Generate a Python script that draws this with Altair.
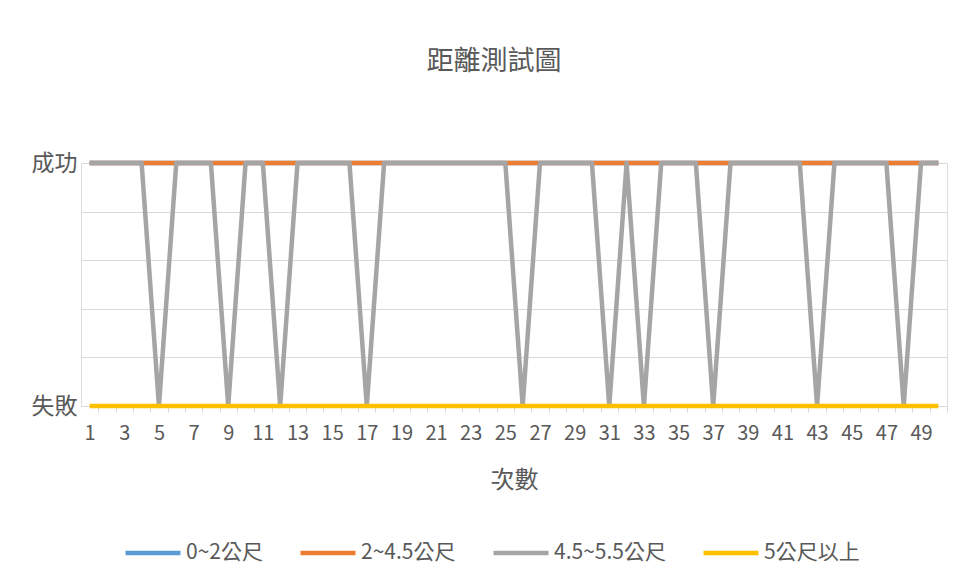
import altair as alt
import pandas as pd

# ---- data ----
trials = list(range(1, 51))
series_names = ["0~2公尺", "2~4.5公尺", "4.5~5.5公尺", "5公尺以上"]
series_colors = ["#5B9BD5", "#ED7D31", "#A5A5A5", "#FFC000"]

s_0_2 = [1, 1, 1, 1, 1, 1, 1, 1, 1, 1,
         1, 1, 1, 1, 1, 1, 1, 1, 1, 1,
         1, 1, 1, 1, 1, 1, 1, 1, 1, 1,
         1, 1, 1, 1, 1, 1, 1, 1, 1, 1,
         1, 1, 1, 1, 1, 1, 1, 1, 1, 1]
s_2_45 = [1, 1, 1, 1, 1, 1, 1, 1, 1, 1,
          1, 1, 1, 1, 1, 1, 1, 1, 1, 1,
          1, 1, 1, 1, 1, 1, 1, 1, 1, 1,
          1, 1, 1, 1, 1, 1, 1, 1, 1, 1,
          1, 1, 1, 1, 1, 1, 1, 1, 1, 1]
s_45_55 = [1, 1, 1, 1, 0, 1, 1, 1, 0, 1,
           1, 0, 1, 1, 1, 1, 0, 1, 1, 1,
           1, 1, 1, 1, 1, 0, 1, 1, 1, 1,
           0, 1, 0, 1, 1, 1, 0, 1, 1, 1,
           1, 1, 0, 1, 1, 1, 1, 0, 1, 1]
s_5_up = [0, 0, 0, 0, 0, 0, 0, 0, 0, 0,
          0, 0, 0, 0, 0, 0, 0, 0, 0, 0,
          0, 0, 0, 0, 0, 0, 0, 0, 0, 0,
          0, 0, 0, 0, 0, 0, 0, 0, 0, 0,
          0, 0, 0, 0, 0, 0, 0, 0, 0, 0]

x_tick_values = [v / 2 for v in range(2, 102)]  # 1, 1.5, ..., 50.5
y_grid_values = [0, 0.2, 0.4, 0.6, 0.8, 1]

all_series = [s_0_2, s_2_45, s_45_55, s_5_up]
rows = []
for name, vals in zip(series_names, all_series):
    for t, v in zip(trials, vals):
        rows.append({"次數": t, "結果": v, "系列": name})
df = pd.DataFrame(rows)

FONT = "Noto Sans CJK TC"
TEXT = "#595959"
GRID = "#D9D9D9"

x_axis = alt.Axis(
    values=x_tick_values,
    labelExpr="datum.value % 2 == 1 ? format(datum.value, 'd') : ''",
    labelOverlap=False,
    labelFont=FONT, labelFontSize=20, labelColor=TEXT, labelPadding=11,
    tickSize=6, tickColor=GRID,
    tickOpacity={"condition": {"test": "datum.value % 1 == 0", "value": 0}, "value": 1},
    domainColor=GRID, domainWidth=1, grid=False,
    title="次數", titleFont=FONT, titleFontSize=24, titleFontWeight="normal",
    titleColor=TEXT, titleY=74, titleBaseline="middle",
)
y_axis = alt.Axis(
    values=y_grid_values,
    labelExpr="datum.value == 1 ? '成功' : (datum.value == 0 ? '失敗' : '')",
    labelFont=FONT, labelFontSize=23, labelColor=TEXT, labelPadding=4,
    ticks=False, domain=False, grid=True, gridColor=GRID, gridWidth=1,
    title=None,
)
color_enc = alt.Color(
    "系列:N",
    scale=alt.Scale(domain=series_names, range=series_colors),
    legend=alt.Legend(
        orient="none", legendX=42, legendY=360, direction="horizontal",
        title=None, symbolType="stroke", symbolSize=3025, symbolStrokeWidth=4.5,
        labelFont=FONT, labelFontSize=21, labelColor=TEXT, labelOffset=3,
        columnPadding=28, labelLimit=300,
    ),
)

base = alt.Chart(df).encode(
    x=alt.X("次數:Q", scale=alt.Scale(domain=[0.5, 50.5], nice=False, zero=False), axis=x_axis),
    y=alt.Y("結果:Q", scale=alt.Scale(domain=[0, 1], nice=False), axis=y_axis),
    color=color_enc,
)

layers = [
    base.transform_filter(alt.datum["系列"] == name).mark_line(strokeWidth=4.5, strokeJoin="round")
    for name in series_names
]

chart = alt.layer(*layers).properties(
    width=866,
    height=243,
    autosize=alt.AutoSizeParams(type="none"),
    padding={"left": 81, "top": 163, "right": 18, "bottom": 174},
    title=alt.TitleParams(
        text="距離測試圖", font=FONT, fontSize=27, fontWeight="normal", color=TEXT,
        anchor="middle", offset=63, baseline="middle", dx=-20,
    ),
).configure_view(stroke=None).configure(background="white")

chart.save("out.html", embed_options={"renderer": "svg", "actions": False})
